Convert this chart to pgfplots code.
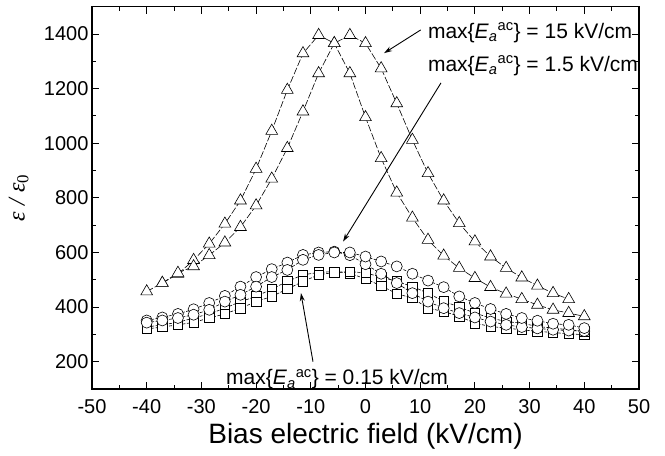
\documentclass[border=0pt]{standalone}
\usepackage{fontspec}
\setmainfont{Liberation Sans}
\newfontfamily\serifgreek{Liberation Serif}
\usepackage{pgfplots}
\pgfplotsset{compat=1.18}
\usepackage{pgfplotstable}
\usetikzlibrary{arrows.meta}

\pgfplotstableread{
x A B C1 C2 S1 S2
-40 457 nan 351 343 327 320
-37.14 488 488 362 351 335 327
-34.29 521 525 375 360 344 335
-31.43 572 549 392 372 360 344
-28.57 632 590 415 390 375 360
-25.71 705 636 441 420 396 375
-22.86 790 693 475 445 420 396
-20 906 772 510 475 439 420
-17.14 1045 870 539 510 466 439
-14.29 1195 982 563 536 494 466
-11.43 1329 1116 591 573 518 494
-8.57 1396 1256 600 591 527 518
-5.71 1366 1366 603 600 530 527
-2.86 1256 1396 590 600 524 530
0 1095 1366 557 585 503 525
2.86 945 1274 522 567 478 510
5.71 819 1146 488 549 449 494
8.57 727 1012 451 522 433 475
11.43 646 890 420 497 396 451
14.29 588 790 396 473 384 421
17.14 543 707 378 439 366 400
20 506 640 362 415 341 378
22.86 473 585 347 393 329 360
25.71 449 543 335 375 323 347
28.57 429 508 327 360 317 341
31.43 408 478 322 350 311 329
34.29 390 451 317 339 307 323
37.14 378 429 314 335 302 317
40 366 nan 312 323 299 311
}\datatable

\newcommand{\Emax}{max\{\textit{E}\textsubscript{\textit{a}}\textsuperscript{ac}\}}

\begin{document}
\begin{tikzpicture}
\begin{axis}[name=ax, at={(0,0)}, anchor=south west,
  scale only axis, width=547pt, height=382.3pt,
  xmin=-50, xmax=50, ymin=100, ymax=1500,
  xtick={-50,-40,...,50}, ytick={200,400,...,1400},
  minor x tick num=1, minor y tick num=1,
  tick align=inside, major tick length=7pt, minor tick length=4pt,
  every tick/.style={black, line width=1pt},
  axis line style={line width=1.2pt},
  /pgf/number format/assume math mode=true,
  /pgf/number format/1000 sep={},
  ticklabel style={font=\fontsize{20}{20}\selectfont},
  xticklabel style={yshift=-7pt},
  xlabel={Bias electric field (kV/cm)},
  xlabel style={font=\fontsize{28}{28}\selectfont, at={(axis description cs:0.5,-0.123)}, anchor=center},
  ylabel={\serifgreek\itshape ε / ε\textsubscript{\upshape 0}},
  ylabel style={font=\fontsize{24}{24}\selectfont, at={(axis description cs:-0.134,0.5)}, anchor=center},
  clip=false,
]
\pgfplotsset{
  tri/.style={black, line width=0.6pt, dash pattern=on 7pt off 2pt, mark=triangle*, mark size=6.8pt, mark options={solid, fill=white, line width=0.6pt}},
  cir/.style={black, line width=0.6pt, dash pattern=on 3pt off 1.5pt, mark=*, mark size=5.5pt, mark options={solid, fill=white, line width=0.6pt}},
  sqr/.style={black, line width=0.6pt, dash pattern=on 3pt off 1.5pt, mark=square*, mark size=4.7pt, mark options={solid, fill=white, line width=0.6pt}},
}
\addplot[sqr] table[x=x, y=S1] {\datatable};
\addplot[sqr] table[x=x, y=S2] {\datatable};
\addplot[cir] table[x=x, y=C1] {\datatable};
\addplot[cir] table[x=x, y=C2] {\datatable};
\addplot[tri] table[x=x, y=A] {\datatable};
\addplot[tri] table[x=x, y=B] {\datatable};

\node[anchor=west, inner sep=0pt, font=\fontsize{21}{21}\selectfont] at (axis cs:11.4,1404) {\Emax{} = 15 kV/cm};
\node[anchor=west, inner sep=0pt, font=\fontsize{21}{21}\selectfont] at (axis cs:11.4,1283) {\Emax{} = 1.5 kV/cm};
\node[anchor=west, inner sep=0pt, font=\fontsize{21}{21}\selectfont] at (axis cs:-25.5,135) {\Emax{} = 0.15 kV/cm};
\draw[line width=0.9pt, -{Stealth[length=8pt, width=5pt]}] (axis cs:10.1,1415) -- (axis cs:3.4,1330);
\draw[line width=0.9pt, -{Stealth[length=8pt, width=5pt]}] (axis cs:13.8,1221) -- (axis cs:-4.1,640);
\draw[line width=0.9pt, -{Stealth[length=8pt, width=5pt]}] (axis cs:-9.6,200) -- (axis cs:-11.8,451);
\end{axis}
\path ([shift={(-92pt,-66pt)}]ax.south west) rectangle ([shift={(26pt,6.7pt)}]ax.north east);
\end{tikzpicture}
\end{document}
